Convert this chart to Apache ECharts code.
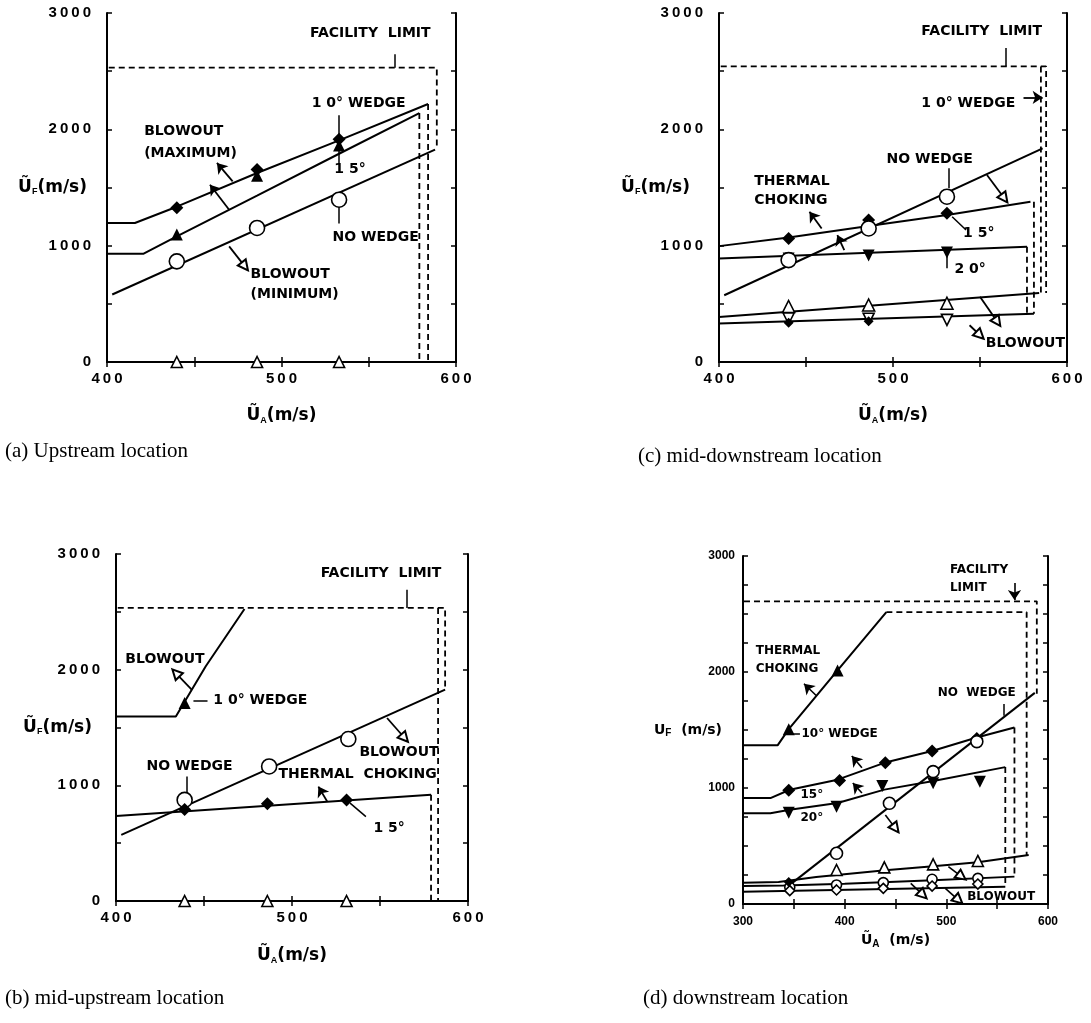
<!DOCTYPE html>
<html>
<head>
<meta charset="utf-8">
<script src="https://cdn.jsdelivr.net/npm/echarts@6/dist/echarts.min.js"></script>
<style>
html, body { margin: 0; padding: 0; background: #fff; }
#chart { width: 1091px; height: 1023px; }
</style>
</head>
<body>
<div id="chart"></div>
<script>
// ---------- (a) upstream location ----------
const aWedge10Line = [[400, 1195], [416, 1195], [440, 1335], [486, 1625], [533, 1905], [584, 2218]]
const aWedge15Line = [[400, 931], [421, 931], [440, 1080], [486, 1430], [533, 1790], [579, 2140]]
const aNoWedgeLine = [[403, 580], [588, 1825]]
const aFacility = [[401, 2530], [589, 2530], [589, 1830]]
const aWedge10Drop = [[584, 2218], [584, 0]]
const aWedge15Drop = [[579, 2140], [579, 0]]
const aDiamonds = [[440, 1325], [486, 1655], [533, 1915]]
const aTriangles = [[440, 1095], [486, 1600], [533, 1860]]
const aCircles = [[440, 865], [486, 1152], [533, 1395]]
const aOpenTri = [[440, 0], [486, 0], [533, 0]]
const aTexts = [[516, 2826, 'FACILITY  LIMIT'], [517, 2226, '1 0° WEDGE'], [421, 1983, 'BLOWOUT'], [421, 1796, '(MAXIMUM)'],
    [530, 1653, '1 5°'], [529, 1074, 'NO WEDGE'], [482, 750, 'BLOWOUT'], [482, 578, '(MINIMUM)']]
const aLeaders = [[[565, 2645], [565, 2530]], [[533, 2120], [533, 1935]], [[533, 1830], [533, 1700]], [[533, 1370], [533, 1190]]]
const aArrows = [[[472, 1553], [463, 1711]], [[470, 1309], [459, 1524]]]
const aOpenArrows = [[[470, 994], [479, 822]]]

// ---------- (b) mid-upstream location ----------
const bWedge10Line = [[400, 1596], [434, 1596], [451, 2029], [473, 2525]]
const bNoWedgeLine = [[403, 571], [587, 1827]]
const bWedge15Line = [[400, 735], [579, 918]]
const bFacility = [[401, 2534], [587, 2534], [587, 1827]]
const bDropA = [[583, 2534], [583, 0]]
const bDropB = [[579, 918], [579, 0]]
const bTriangles = [[439, 1711]]
const bCircles = [[439, 874], [487, 1163], [532, 1400]]
const bDiamonds = [[439, 790], [486, 840], [531, 874]]
const bOpenTri = [[439, 0], [486, 0], [531, 0]]
const bTexts = [[516, 2831, 'FACILITY  LIMIT'], [405, 2092, 'BLOWOUT'], [455, 1732, '1 0° WEDGE'], [417, 1163, 'NO WEDGE'],
    [538, 1284, 'BLOWOUT'], [492, 1091, 'THERMAL  CHOKING'], [546, 629, '1 5°']]
const bLeaders = [[[565, 2690], [565, 2534]], [[444, 1732], [452, 1732]], [[440, 1076], [440, 918]], [[533, 846], [542, 730]]]
const bArrows = [[[520, 860], [515, 989]]]
const bOpenArrows = [[[443, 1827], [434, 1971]], [[554, 1582], [564, 1409]]]

// ---------- (c) mid-downstream location ----------
const cWedge15Line = [[400, 996], [440, 1071], [486, 1169], [531, 1263], [579, 1378]]
const cWedge20Line = [[400, 890], [577, 990]]
const cNoWedgeLine = [[403, 574], [586, 1837]]
const cUpperBlowLine = [[400, 386], [584, 594]]
const cLowerBlowLine = [[400, 331], [581, 414]]
const cFacility = [[401, 2541], [588, 2541], [588, 594]]
const cDropA = [[585, 2541], [585, 594]]
const cDropB = [[581, 1378], [581, 414]]
const cDropC = [[577, 990], [577, 414]]
const cDiamonds = [[440, 1062], [486, 1220], [531, 1278]]
const cInvTri = [[440, 890], [486, 915], [531, 942]]
const cCircles = [[440, 876], [486, 1148], [531, 1421]]
const cOpenTri = [[440, 477], [486, 490], [531, 505]]
const cOpenInvTri = [[440, 374], [486, 372], [531, 362]]
const cSmallDiamonds = [[440, 338], [486, 350]]
const cTexts = [[516, 2842, 'FACILITY  LIMIT'], [516, 2225, '1 0° WEDGE'], [496, 1743, 'NO WEDGE'], [420, 1550, 'THERMAL'],
    [420, 1393, 'CHOKING'], [540, 1105, '1 5°'], [535, 795, '2 0°'], [553, 158, 'BLOWOUT']]
const cLeaders = [[[565, 2699], [565, 2541]], [[532, 1665], [532, 1493]], [[534, 1249], [542, 1134]], [[531, 935], [531, 805]]]
const cArrows = [[[459, 1148], [452, 1292]], [[472, 962], [468, 1091]], [[575, 2274], [586, 2274]]]
const cOpenArrows = [[[554, 1608], [564, 1407]], [[550, 560], [560, 345]], [[544, 316], [550, 230]]]

// ---------- (d) downstream location ----------
const dWedge10Line = [[300, 1368], [334, 1368], [345, 1507], [393, 2014], [441, 2516]]
const dWedge10Cap = [[441, 2516], [579, 2516], [579, 422]]
const dFacility = [[301, 2609], [589, 2609], [589, 1812]]
const dWedge15Line = [[300, 913], [327, 913], [346, 985], [393, 1072], [439, 1217], [486, 1319], [530, 1435], [567, 1522]]
const dWedge15Drop = [[567, 1522], [567, 236]]
const dWedge20Line = [[300, 783], [327, 783], [346, 812], [393, 870], [439, 986], [486, 1058], [558, 1180]]
const dWedge20Drop = [[558, 1180], [558, 149]]
const dNoWedgeLine = [[346, 165], [587, 1820]]
const dLineA = [[300, 184], [335, 190], [372, 232], [440, 290], [487, 325], [531, 360], [581, 422]]
const dLineB = [[300, 155], [340, 160], [400, 175], [487, 205], [567, 236]]
const dLineC = [[300, 106], [558, 149]]
const dTriangles = [[345, 1507], [393, 2014]]
const dDiamonds = [[345, 980], [395, 1064], [440, 1217], [486, 1319], [530, 1426]]
const dInvTri = [[345, 787], [392, 839], [437, 1017], [487, 1040], [533, 1054]]
const dCircles = [[392, 437], [444, 868], [487, 1141], [530, 1400]]
const dOpenTri = [[392, 293], [439, 316], [487, 342], [531, 371]]
const dOpenCircles = [[346, 144], [392, 164], [438, 184], [486, 213], [531, 221]]
const dOpenDiamonds = [[346, 115], [392, 121], [438, 135], [486, 155], [531, 172]]
const dSmallDiamonds = [[345, 190]]
const dTexts = [[503, 2884, 'FACILITY'], [503, 2725, 'LIMIT'], [312, 2180, 'THERMAL'], [312, 2023, 'CHOKING'],
    [357, 1464, '10° WEDGE'], [491, 1820, 'NO  WEDGE'], [356, 942, '15°'], [356, 739, '20°'], [520, 63, 'BLOWOUT']]
const dLeaders = [[[556, 1725], [556, 1623]], [[348, 1464], [356, 1464]]]
const dArrows = [[[567, 2768], [567, 2620]], [[372, 1797], [360, 1899]], [[417, 1174], [407, 1275]], [[417, 957], [408, 1043]]]
const dOpenArrows = [[[440, 767], [450, 652]], [[502, 322], [515, 236]], [[465, 178], [477, 78]], [[499, 135], [512, 34]]]

const captions = ['(a) Upstream location', '(b) mid-upstream location', '(c) mid-downstream location', '(d) downstream location']

const FONT = 'Liberation Sans, Arial, sans-serif'
const WIDE = 'DejaVu Sans, Verdana, sans-serif'
const grids = [], xAxes = [], yAxes = [], series = []

function spaced(v) {
    return String(v).split('').join('\u2009')
}

// 一个子图：网格 + 四条坐标轴
function addPanel(idx, box, xr, yTick, big, names) {
    grids.push({ left: box[0], top: box[1], width: box[2], height: box[3], show: false, outerBoundsMode: 'none', containLabel: false })
    const lineStyle = { color: '#000', width: 2 }
    const tick = { inside: true, length: 5, lineStyle: { color: '#000', width: 1.5 } }
    const lblSize = big ? 15 : 12
    const nameRich = {
        t: { fontSize: big ? 17 : 14, fontWeight: 'bold', fontFamily: WIDE, color: '#000' },
        s: { fontSize: big ? 9 : 10, fontWeight: 'bold', fontFamily: FONT, color: '#000', padding: [big ? 9 : 7, 0, 0, 0] }
    }
    const xBase = { gridIndex: idx, type: 'value', min: xr[0], max: xr[1], interval: 50, splitLine: { show: false }, axisLine: { lineStyle: lineStyle }, axisTick: tick }
    const yBase = { gridIndex: idx, type: 'value', min: 0, max: 3000, interval: yTick, splitLine: { show: false }, axisLine: { lineStyle: lineStyle }, axisTick: tick }
    xAxes.push(Object.assign({}, xBase, {
        position: 'bottom',
        axisLabel: { formatter: v => v % 100 === 0 ? (big ? spaced(v) : String(v)) : '', fontSize: lblSize, fontWeight: 'bold', fontFamily: FONT, color: '#000', margin: big ? 9 : 12 },
        name: names[0], nameLocation: 'middle', nameGap: names[2], nameMoveOverlap: false, nameTextStyle: { rich: nameRich }
    }))
    xAxes.push(Object.assign({}, xBase, { position: 'top', axisLabel: { show: false } }))
    yAxes.push(Object.assign({}, yBase, {
        position: 'left',
        axisLabel: { formatter: v => v % 1000 === 0 ? (big ? spaced(v) : String(v)) : '', fontSize: lblSize, fontWeight: 'bold', fontFamily: FONT, color: '#000', margin: big ? 16 : 8 },
        name: names[1], nameLocation: 'middle', nameRotate: 0, nameGap: names[3], nameMoveOverlap: false, nameTextStyle: { rich: nameRich }
    }))
    yAxes.push(Object.assign({}, yBase, { position: 'right', axisLabel: { show: false } }))
}

function line(idx, data, dashed) {
    series.push({
        type: 'line', xAxisIndex: idx * 2, yAxisIndex: idx * 2, data: data, symbol: 'none', z: 3,
        lineStyle: { color: '#000', width: dashed ? 1.8 : 2, type: dashed ? [6, 4] : 'solid' }
    })
}

function marks(idx, data, symbol, size, open, rotate) {
    series.push({
        type: 'scatter', xAxisIndex: idx * 2, yAxisIndex: idx * 2, data: data, symbol: symbol, symbolSize: size,
        symbolRotate: rotate || 0, z: 5,
        itemStyle: open ? { color: '#fff', borderColor: '#000', borderWidth: 1.6, opacity: 1 } : { color: '#000', opacity: 1 }
    })
}

function arrows(idx, list, head, width) {
    series.push({
        type: 'lines', coordinateSystem: 'cartesian2d', xAxisIndex: idx * 2, yAxisIndex: idx * 2, z: 4,
        symbol: ['none', head], symbolSize: head === 'none' ? 0 : 10,
        lineStyle: { color: '#000', width: width, opacity: 1 },
        data: list.map(c => ({ coords: c }))
    })
}

function texts(idx, list, size) {
    series.push({
        type: 'scatter', xAxisIndex: idx * 2, yAxisIndex: idx * 2, symbolSize: 1, z: 6,
        itemStyle: { color: 'rgba(255,255,255,0)', opacity: 1 },
        label: { show: true, position: 'right', distance: 0, formatter: p => p.name, color: '#000', opacity: 1, fontSize: size, fontWeight: 'bold', fontFamily: WIDE },
        data: list.map(t => ({ name: t[2], value: [t[0], t[1]] }))
    })
}

const uF = '{t|Ũ}{s|F}{t|(m/s)}'
const uA = '{t|Ũ}{s|A}{t|(m/s)}'

// (a)
addPanel(0, [107, 13, 349, 349], [400, 600], 500, true, [uA, uF, 45, 20])
line(0, aWedge10Line); line(0, aWedge15Line); line(0, aNoWedgeLine)
line(0, aFacility, true); line(0, aWedge10Drop, true); line(0, aWedge15Drop, true)
marks(0, aDiamonds, 'diamond', 13); marks(0, aTriangles, 'triangle', 12); marks(0, aCircles, 'circle', 15, true)
marks(0, aOpenTri, 'triangle', 11, true)
arrows(0, aLeaders, 'none', 1.5); arrows(0, aArrows, 'arrow', 1.8); arrows(0, aOpenArrows, 'emptyTriangle', 1.8)
texts(0, aTexts, 14)

// (b)
addPanel(1, [116, 554, 352, 347], [400, 600], 500, true, [uA, uF, 46, 24])
line(1, bWedge10Line); line(1, bNoWedgeLine); line(1, bWedge15Line)
line(1, bFacility, true); line(1, bDropA, true); line(1, bDropB, true)
marks(1, bTriangles, 'triangle', 12); marks(1, bCircles, 'circle', 15, true); marks(1, bDiamonds, 'diamond', 13)
marks(1, bOpenTri, 'triangle', 11, true)
arrows(1, bLeaders, 'none', 1.5); arrows(1, bArrows, 'arrow', 1.8); arrows(1, bOpenArrows, 'emptyTriangle', 1.8)
texts(1, bTexts, 14)

// (c)
addPanel(2, [719, 13, 348, 349], [400, 600], 500, true, [uA, uF, 45, 29])
line(2, cWedge15Line); line(2, cWedge20Line); line(2, cNoWedgeLine); line(2, cUpperBlowLine); line(2, cLowerBlowLine)
line(2, cFacility, true); line(2, cDropA, true); line(2, cDropB, true); line(2, cDropC, true)
marks(2, cDiamonds, 'diamond', 13); marks(2, cInvTri, 'triangle', 12, false, 180); marks(2, cCircles, 'circle', 15, true)
marks(2, cOpenTri, 'triangle', 12, true); marks(2, cOpenInvTri, 'triangle', 11, true, 180); marks(2, cSmallDiamonds, 'diamond', 10)
arrows(2, cLeaders, 'none', 1.5); arrows(2, cArrows, 'arrow', 1.8); arrows(2, cOpenArrows, 'emptyTriangle', 1.8)
texts(2, cTexts, 14)

// (d)
addPanel(3, [743, 556, 305, 348], [300, 600], 250, false, ['{t|Ũ}{s|A}{t|  (m/s)}', '{t|U}{s|F}{t|  (m/s)}', 28, 21])
line(3, dWedge10Line); line(3, dWedge15Line); line(3, dWedge20Line); line(3, dNoWedgeLine)
line(3, dLineA); line(3, dLineB); line(3, dLineC)
line(3, dWedge10Cap, true); line(3, dFacility, true); line(3, dWedge15Drop, true); line(3, dWedge20Drop, true)
marks(3, dTriangles, 'triangle', 12); marks(3, dDiamonds, 'diamond', 13); marks(3, dInvTri, 'triangle', 12, false, 180)
marks(3, dCircles, 'circle', 12, true); marks(3, dOpenTri, 'triangle', 11, true); marks(3, dOpenCircles, 'circle', 10, true)
marks(3, dOpenDiamonds, 'diamond', 10, true); marks(3, dSmallDiamonds, 'diamond', 10)
arrows(3, dLeaders, 'none', 1.5); arrows(3, dArrows, 'arrow', 1.6); arrows(3, dOpenArrows, 'emptyTriangle', 1.6)
texts(3, dTexts, 12)

const capStyle = { fontSize: 21, fontFamily: 'Liberation Serif, Times New Roman, serif', fill: '#000' }
const capPos = [[5, 441], [5, 988], [638, 446], [643, 988]]

const chart = echarts.init(document.getElementById('chart'))
chart.setOption({
    animation: false,
    backgroundColor: '#fff',
    grid: grids,
    xAxis: xAxes,
    yAxis: yAxes,
    series: series,
    graphic: captions.map((c, i) => ({ type: 'text', left: capPos[i][0], top: capPos[i][1], style: Object.assign({ text: c }, capStyle) }))
})
</script>
</body>
</html>
